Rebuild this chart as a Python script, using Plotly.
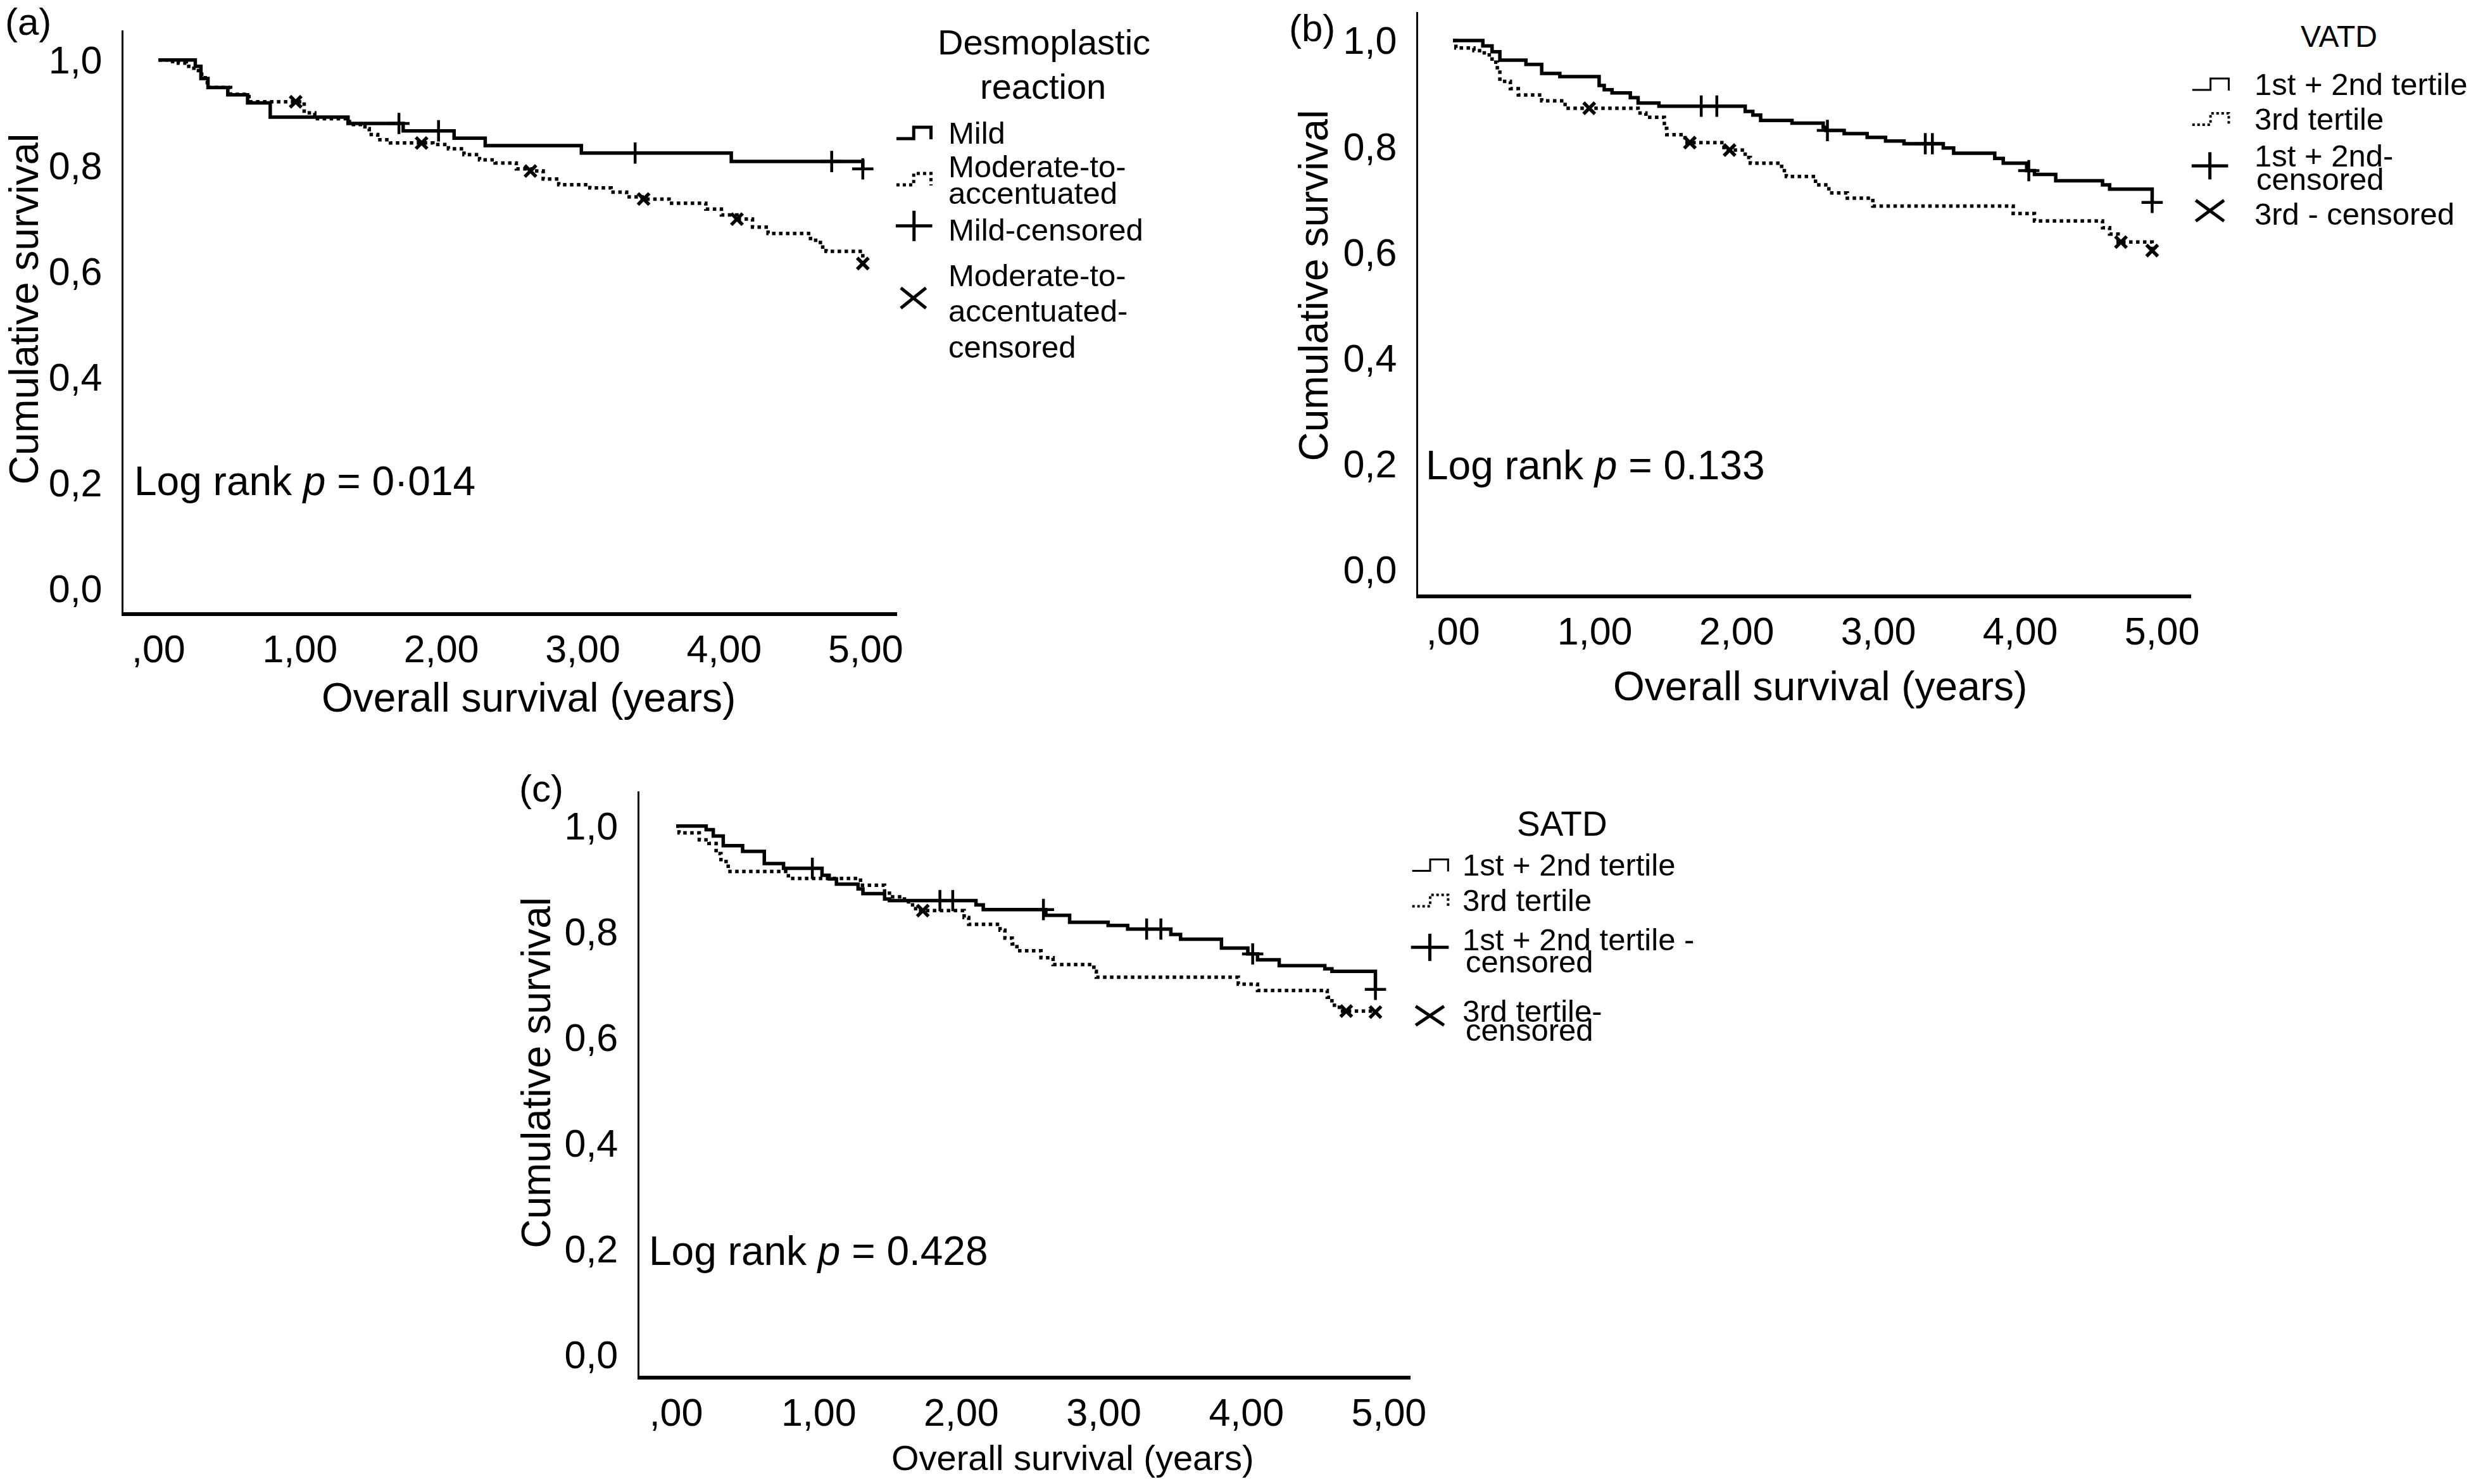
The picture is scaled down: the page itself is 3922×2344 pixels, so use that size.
import plotly.graph_objects as go

W, H = 3922, 2344
FONT = "Liberation Sans, Arial, Helvetica, sans-serif"

# ---------------- data ----------------
x_tick_vals = [0, 1, 2, 3, 4, 5]
x_tick_text = [",00", "1,00", "2,00", "3,00", "4,00", "5,00"]
y_tick_vals = [0.0, 0.2, 0.4, 0.6, 0.8, 1.0]
y_tick_text = ["0,0", "0,2", "0,4", "0,6", "0,8", "1,0"]

# (a) Desmoplastic reaction
a_mild_t = [0, 0.26, 0.30, 0.35, 0.49, 0.63, 0.79, 1.34, 1.73, 2.09, 2.31, 2.99, 4.05, 4.98]
a_mild_s = [1.0, 0.988, 0.965, 0.948, 0.934, 0.919, 0.892, 0.880, 0.866, 0.852, 0.838, 0.824, 0.808, 0.794]
a_mild_cens_t = [1.70, 1.98, 3.37, 4.76, 4.98]
a_mild_cens_s = [0.880, 0.866, 0.824, 0.808, 0.794]
a_mod_t = [0, 0.067, 0.14, 0.197, 0.25, 0.29, 0.33, 0.345, 0.51, 0.64, 1.03, 1.105, 1.35, 1.46, 1.49,
           1.55, 1.64, 1.94, 2.05, 2.16, 2.27, 2.38, 2.53, 2.64, 2.72, 2.83, 3.05, 3.20, 3.31, 3.42,
           3.61, 3.87, 3.98, 4.09, 4.20, 4.31, 4.61, 4.68, 4.72, 4.98]
a_mod_s = [1.0, 0.997, 0.994, 0.988, 0.980, 0.973, 0.963, 0.948, 0.935, 0.921, 0.900, 0.889, 0.878, 0.870, 0.859,
           0.849, 0.843, 0.840, 0.832, 0.821, 0.811, 0.805, 0.794, 0.790, 0.775, 0.764, 0.758, 0.750, 0.741, 0.737,
           0.729, 0.718, 0.707, 0.699, 0.684, 0.672, 0.659, 0.646, 0.638, 0.615]
a_mod_cens_t = [0.97, 1.86, 2.63, 3.43, 4.09, 4.98]
a_mod_cens_s = [0.921, 0.843, 0.790, 0.737, 0.699, 0.615]

# (b) VATD
b_low_t = [0, 0.21, 0.275, 0.33, 0.514, 0.625, 0.753, 1.03, 1.066, 1.121, 1.25, 1.305, 1.452, 2.06, 2.114,
           2.169, 2.39, 2.61, 2.63, 2.758, 2.92, 3.05, 3.18, 3.457, 3.53, 3.82, 3.88, 4.045, 4.10, 4.25,
           4.58, 4.63, 4.93]
b_low_s = [1.0, 0.990, 0.979, 0.963, 0.955, 0.938, 0.932, 0.915, 0.907, 0.901, 0.892, 0.882, 0.876, 0.866, 0.859,
           0.849, 0.844, 0.836, 0.830, 0.824, 0.817, 0.810, 0.805, 0.797, 0.787, 0.777, 0.768, 0.754, 0.747, 0.735,
           0.727, 0.719, 0.694]
b_low_cens_t = [1.75, 1.86, 2.64, 3.33, 3.38, 4.06, 4.93]
b_low_cens_s = [0.876, 0.876, 0.830, 0.805, 0.805, 0.754, 0.694]
b_high_t = [0, 0.02, 0.147, 0.22, 0.275, 0.312, 0.33, 0.404, 0.46, 0.625, 0.79, 1.305, 1.36, 1.49, 1.507,
            1.636, 1.91, 2.06, 2.096, 2.317, 2.35, 2.556, 2.65, 2.78, 2.96, 3.95, 4.10, 4.58, 4.63, 4.69, 4.93]
b_high_s = [1.0, 0.986, 0.981, 0.973, 0.959, 0.944, 0.923, 0.909, 0.897, 0.886, 0.872, 0.863, 0.855, 0.834, 0.822,
            0.807, 0.793, 0.779, 0.768, 0.754, 0.743, 0.727, 0.712, 0.702, 0.687, 0.673, 0.659, 0.646, 0.634, 0.619, 0.603]
b_high_cens_t = [0.96, 1.67, 1.95, 4.71, 4.93]
b_high_cens_s = [0.872, 0.807, 0.793, 0.619, 0.603]

# (c) SATD
c_low_t = [0, 0.21, 0.26, 0.33, 0.466, 0.618, 0.753, 1.023, 1.073, 1.124, 1.276, 1.31, 1.462, 1.496, 2.103,
           2.154, 2.593, 2.76, 3.03, 3.167, 3.47, 3.538, 3.825, 4.01, 4.078, 4.23, 4.55, 4.60, 4.905]
c_low_s = [1.0, 0.993, 0.981, 0.963, 0.952, 0.929, 0.920, 0.907, 0.900, 0.890, 0.881, 0.872, 0.862, 0.859, 0.851,
           0.842, 0.831, 0.818, 0.812, 0.805, 0.795, 0.786, 0.769, 0.758, 0.747, 0.736, 0.730, 0.725, 0.691]
c_low_cens_t = [0.955, 1.85, 1.94, 2.576, 3.30, 3.40, 4.044, 4.905]
c_low_cens_s = [0.920, 0.859, 0.859, 0.842, 0.805, 0.805, 0.758, 0.691]
c_high_t = [0, 0.02, 0.162, 0.23, 0.28, 0.314, 0.365, 0.787, 1.293, 1.462, 1.496, 1.58, 1.63, 1.68, 2.02,
            2.052, 2.272, 2.306, 2.357, 2.39, 2.559, 2.644, 2.93, 2.947, 3.943, 4.078, 4.567, 4.60, 4.652, 4.905]
c_high_s = [1.0, 0.987, 0.974, 0.967, 0.948, 0.933, 0.914, 0.901, 0.888, 0.877, 0.866, 0.862, 0.851, 0.840, 0.827,
            0.814, 0.803, 0.788, 0.777, 0.764, 0.751, 0.738, 0.725, 0.714, 0.701, 0.689, 0.676, 0.661, 0.650, 0.648]
c_high_cens_t = [1.73, 4.70, 4.905]
c_high_cens_s = [0.840, 0.650, 0.648]

# ---------------- helpers ----------------
def PX(p):
    return p / W


def PY(p):
    return 1 - p / H


fig = go.Figure()

panels = [
    # name, x-domain px, y-domain px, x range, y range
    ("", (196, 1426), (48, 967), (-0.249, 5.222), (-0.044, 1.056)),
    ("2", (2254, 3483), (19, 939), (-0.248, 5.204), (-0.047, 1.054)),
    ("3", (1016, 2242), (1251, 2174), (-0.26, 5.15), (-0.040, 1.065)),
]

series = [
    (a_mild_t, a_mild_s, a_mild_cens_t, a_mild_cens_s, a_mod_t, a_mod_s, a_mod_cens_t, a_mod_cens_s),
    (b_low_t, b_low_s, b_low_cens_t, b_low_cens_s, b_high_t, b_high_s, b_high_cens_t, b_high_cens_s),
    (c_low_t, c_low_s, c_low_cens_t, c_low_cens_s, c_high_t, c_high_s, c_high_cens_t, c_high_cens_s),
]

for (suffix, xd, yd, xr, yr), (t1, s1, ct1, cs1, t2, s2, ct2, cs2) in zip(panels, series):
    xa = "x" + suffix
    ya = "y" + suffix
    fig.add_trace(go.Scatter(x=t2, y=s2, mode="lines", line=dict(shape="hv", color="black", width=5.5, dash="dot"),
                             xaxis=xa, yaxis=ya, showlegend=False, hoverinfo="skip"))
    fig.add_trace(go.Scatter(x=t1, y=s1, mode="lines", line=dict(shape="hv", color="black", width=5.5),
                             xaxis=xa, yaxis=ya, showlegend=False, hoverinfo="skip"))
    fig.add_trace(go.Scatter(x=ct1, y=cs1, mode="markers",
                             marker=dict(symbol="cross-thin", size=24, line=dict(width=4.5, color="black"), color="black"),
                             xaxis=xa, yaxis=ya, showlegend=False, hoverinfo="skip"))
    fig.add_trace(go.Scatter(x=ct2, y=cs2, mode="markers",
                             marker=dict(symbol="x-thin", size=18, line=dict(width=5.5, color="black"), color="black"),
                             xaxis=xa, yaxis=ya, showlegend=False, hoverinfo="skip"))
    xkey = "xaxis" + suffix
    ykey = "yaxis" + suffix
    fig.layout[xkey] = dict(
        domain=[PX(xd[0]), PX(xd[1])], range=list(xr), anchor=ya,
        tickvals=x_tick_vals, ticktext=x_tick_text, ticks="", ticklen=0, showgrid=False, zeroline=False,
        showline=True, linecolor="black", linewidth=6, ticklabelstandoff=0,
        tickfont=dict(family=FONT, size=61, color="black"), fixedrange=True,
    )
    fig.layout[ykey] = dict(
        domain=[PY(yd[1]), PY(yd[0])], range=list(yr), anchor=xa,
        tickvals=y_tick_vals, ticktext=y_tick_text, ticks="", ticklen=0, showgrid=False, zeroline=False,
        showline=True, linecolor="black", linewidth=3, ticklabelstandoff=18,
        tickfont=dict(family=FONT, size=61, color="black"), fixedrange=True,
    )

annotations = []
shapes = []


def text(px, py, s, size, xanchor="left", angle=0):
    annotations.append(dict(x=PX(px), y=PY(py), xref="paper", yref="paper", text=s, showarrow=False,
                            xanchor=xanchor, yanchor="middle", textangle=angle,
                            font=dict(family=FONT, size=size, color="black")))


# panel labels
text(45, 35, "(a)", 60, "center")
text(2086, 45, "(b)", 60, "center")
text(860, 1246, "(c)", 60, "center")

# axis titles
text(38, 488, "Cumulative survival", 64, "center", -90)
text(2088, 451, "Cumulative survival", 64, "center", -90)
text(853, 1695, "Cumulative survival", 64, "center", -90)
text(840, 1102, "Overall survival (years)", 64, "center")
text(2893, 1084, "Overall survival (years)", 64, "center")
text(1705, 2303, "Overall survival (years)", 56, "center")

# log rank
text(211, 760, "Log rank <i>p</i> = 0·014", 64)
text(2264, 735, "Log rank <i>p</i> = 0.133", 64)
text(1030, 1977, "Log rank <i>p</i> = 0.428", 64)


def step_glyph(x0, yc, w, dotted, lw):
    xm = x0 + w * 0.5
    x1 = x0 + w
    path = (f"M {PX(x0)},{PY(yc + 9)} L {PX(xm)},{PY(yc + 9)} L {PX(xm)},{PY(yc - 9)} "
            f"L {PX(x1)},{PY(yc - 9)} L {PX(x1)},{PY(yc + 10)}")
    shapes.append(dict(type="path", path=path, xref="paper", yref="paper",
                       line=dict(color="black", width=lw, dash="dot" if dotted else "solid")))


def plus_glyph(cx, cy, w, h, lw):
    shapes.append(dict(type="line", xref="paper", yref="paper", x0=PX(cx - w / 2), x1=PX(cx + w / 2),
                       y0=PY(cy), y1=PY(cy), line=dict(color="black", width=lw)))
    shapes.append(dict(type="line", xref="paper", yref="paper", x0=PX(cx), x1=PX(cx),
                       y0=PY(cy - h / 2), y1=PY(cy + h / 2), line=dict(color="black", width=lw)))


def x_glyph(cx, cy, w, h, lw):
    shapes.append(dict(type="line", xref="paper", yref="paper", x0=PX(cx - w / 2), x1=PX(cx + w / 2),
                       y0=PY(cy - h / 2), y1=PY(cy + h / 2), line=dict(color="black", width=lw)))
    shapes.append(dict(type="line", xref="paper", yref="paper", x0=PX(cx - w / 2), x1=PX(cx + w / 2),
                       y0=PY(cy + h / 2), y1=PY(cy - h / 2), line=dict(color="black", width=lw)))


# legend (a)
text(1660, 67, "Desmoplastic", 56, "center")
text(1658, 137, "reaction", 56, "center")
step_glyph(1425, 210, 55, False, 5)
step_glyph(1425, 283, 55, True, 5)
plus_glyph(1453, 357, 58, 48, 5)
x_glyph(1452, 471, 40, 32, 5)
text(1506, 210, "Mild", 49)
text(1506, 263, "Moderate-to-", 49)
text(1506, 305, "accentuated", 49)
text(1506, 363, "Mild-censored", 49)
text(1506, 435, "Moderate-to-", 49)
text(1506, 491, "accentuated-", 49)
text(1506, 548, "censored", 49)

# legend (b)
text(3718, 58, "VATD", 48, "center")
step_glyph(3485, 133, 58, False, 3)
step_glyph(3485, 188, 58, True, 4)
plus_glyph(3513, 262, 58, 43, 5)
x_glyph(3513, 333, 45, 33, 5)
text(3582, 133, "1st + 2nd tertile", 49)
text(3582, 188, "3rd tertile", 49)
text(3582, 246, "1st + 2nd-", 49)
text(3585, 283, "censored", 49)
text(3582, 338, "3rd - censored", 49)

# legend (c)
text(2483, 1302, "SATD", 55, "center")
step_glyph(2245, 1367, 57, False, 3)
step_glyph(2245, 1423, 57, True, 4)
plus_glyph(2273, 1497, 60, 43, 5)
x_glyph(2273, 1605, 45, 30, 5)
text(2323, 1367, "1st + 2nd tertile", 49)
text(2323, 1423, "3rd tertile", 49)
text(2323, 1485, "1st + 2nd tertile -", 49)
text(2328, 1520, "censored", 49)
text(2323, 1598, "3rd tertile-", 49)
text(2328, 1628, "censored", 49)

fig.update_layout(
    width=W, height=H, margin=dict(l=0, r=0, t=0, b=0),
    paper_bgcolor="white", plot_bgcolor="white",
    font=dict(family=FONT, color="black"),
    annotations=annotations, shapes=shapes, showlegend=False,
)

fig.write_html("out.html")
